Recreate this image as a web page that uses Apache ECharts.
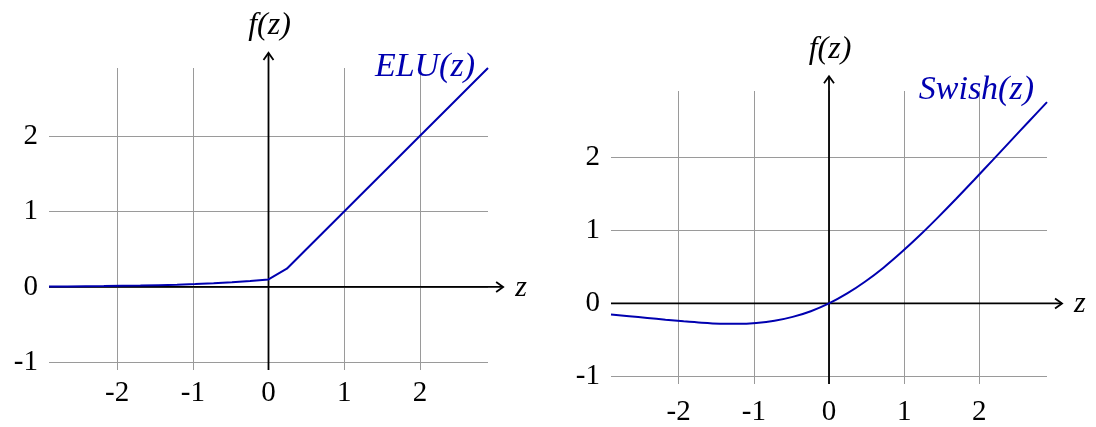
<!DOCTYPE html>
<html>
<head>
<meta charset="utf-8">
<title>ELU and Swish activation functions</title>
<script src="https://cdn.jsdelivr.net/npm/echarts@6/dist/echarts.min.js"></script>
<style>
  html, body { margin: 0; padding: 0; background: #ffffff; }
  #chart { width: 1096px; height: 427px; }
</style>
</head>
<body>
<div id="chart"></div>
<script>
// Sample positions along z shared by both curves
const zSamples = [-2.9, -2.658, -2.417, -2.175, -1.933, -1.692, -1.45, -1.208, -0.967, -0.725, -0.483, -0.242,
  0, 0.242, 0.483, 0.725, 0.967, 1.208, 1.45, 1.692, 1.933, 2.175, 2.417, 2.658, 2.9];

// f(z) values for the ELU curve (left panel)
const eluValues = [0.006, 0.007, 0.009, 0.011, 0.015, 0.018, 0.024, 0.030, 0.038, 0.048, 0.062, 0.079,
  0.1, 0.242, 0.483, 0.725, 0.967, 1.208, 1.45, 1.692, 1.933, 2.175, 2.417, 2.658, 2.9];

// f(z) values for the Swish curve (right panel)
const swishValues = [-0.151, -0.174, -0.198, -0.222, -0.244, -0.263, -0.276, -0.278, -0.266, -0.237, -0.184, -0.106,
  0, 0.136, 0.299, 0.488, 0.701, 0.930, 1.175, 1.429, 1.689, 1.953, 2.219, 2.484, 2.749];

// Axis ranges and the reach of the arrowed main axes
const zRange = [-2.9, 2.9];
const fRange = [-1.1, 2.9];
const axisReach = 3.1;

// Curve names and axis titles
const curveNames = ['ELU(z)', 'Swish(z)'];
const xTitle = 'z';
const yTitle = 'f(z)';

const curveColor = '#0000b0';
const serif = '"Liberation Serif", "DejaVu Serif", serif';
const tickFont = 29;

const chart = echarts.init(document.getElementById('chart'), null, { renderer: 'canvas' });

function pairs(xs, ys) {
  return xs.map((x, i) => [x, ys[i]]);
}

function makeXAxis(gridIndex, labelMargin) {
  return {
    type: 'value', gridIndex: gridIndex,
    min: zRange[0], max: zRange[1],
    minInterval: 1, maxInterval: 1,
    axisLine: { show: false },
    axisTick: { show: false },
    axisLabel: {
      showMinLabel: false, showMaxLabel: false,
      fontFamily: serif, fontSize: tickFont, color: '#000', margin: labelMargin
    },
    splitLine: { show: true, showMinLine: false, showMaxLine: false, lineStyle: { color: '#9a9a9a', width: 1 } }
  };
}

function makeYAxis(gridIndex) {
  return {
    type: 'value', gridIndex: gridIndex,
    min: fRange[0], max: fRange[1],
    minInterval: 1, maxInterval: 1,
    axisLine: { show: false },
    axisTick: { show: false },
    axisLabel: {
      showMinLabel: false, showMaxLabel: false,
      fontFamily: serif, fontSize: tickFont, color: '#000', margin: 11
    },
    splitLine: { show: true, showMinLine: false, showMaxLine: false, lineStyle: { color: '#9a9a9a', width: 1 } }
  };
}

// Arrowed main axes through the origin, their titles and the curve name
function decorations(panel) {
  return {
    type: 'custom',
    xAxisIndex: panel, yAxisIndex: panel,
    silent: true,
    clip: false,
    z: 5,
    data: [[0, 0]],
    renderItem: function (params, api) {
      const xStart = api.coord([zRange[0], 0]);
      const xEnd = api.coord([axisReach, 0]);
      const yStart = api.coord([0, fRange[0]]);
      const yEnd = api.coord([0, axisReach]);
      const corner = api.coord([zRange[1], fRange[1]]);
      const axisStyle = { stroke: '#000', lineWidth: 1.8, fill: null };
      const head = 7, wing = 5;
      return {
        type: 'group',
        children: [
          { type: 'line', shape: { x1: xStart[0], y1: xStart[1], x2: xEnd[0], y2: xEnd[1] }, style: axisStyle },
          { type: 'polyline', shape: { points: [[xEnd[0] - head, xEnd[1] - wing], [xEnd[0], xEnd[1]], [xEnd[0] - head, xEnd[1] + wing]] }, style: axisStyle },
          { type: 'line', shape: { x1: yStart[0], y1: yStart[1], x2: yEnd[0], y2: yEnd[1] }, style: axisStyle },
          { type: 'polyline', shape: { points: [[yEnd[0] - wing, yEnd[1] + head], [yEnd[0], yEnd[1]], [yEnd[0] + wing, yEnd[1] + head]] }, style: axisStyle },
          { type: 'text', style: {
              text: xTitle, x: xEnd[0] + 12, y: xEnd[1] + 1,
              font: 'italic 30px ' + serif, fill: '#000',
              align: 'left', verticalAlign: 'middle', textAlign: 'left', textVerticalAlign: 'middle' } },
          { type: 'text', style: {
              text: yTitle, x: yEnd[0] + 1, y: yEnd[1] - 27,
              font: 'italic 32px ' + serif, fill: '#000',
              align: 'center', verticalAlign: 'middle', textAlign: 'center', textVerticalAlign: 'middle' } },
          { type: 'text', style: {
              text: curveNames[panel], x: corner[0] - 13, y: corner[1] - 1,
              font: 'italic 34px ' + serif, fill: curveColor,
              align: 'right', verticalAlign: 'middle', textAlign: 'right', textVerticalAlign: 'middle' } }
        ]
      };
    }
  };
}

const option = {
  animation: false,
  backgroundColor: '#ffffff',
  grid: [
    { left: 49, right: 608, top: 68, bottom: 57, containLabel: false },
    { left: 611, right: 49, top: 91, bottom: 34, containLabel: false }
  ],
  xAxis: [makeXAxis(0, 9), makeXAxis(1, 14)],
  yAxis: [makeYAxis(0), makeYAxis(1)],
  series: [
    {
      name: curveNames[0], type: 'line', xAxisIndex: 0, yAxisIndex: 0,
      data: pairs(zSamples, eluValues),
      showSymbol: false, symbol: 'none', z: 6,
      lineStyle: { color: curveColor, width: 2 }
    },
    {
      name: curveNames[1], type: 'line', xAxisIndex: 1, yAxisIndex: 1,
      data: pairs(zSamples, swishValues),
      showSymbol: false, symbol: 'none', smooth: 0.3, z: 6,
      lineStyle: { color: curveColor, width: 2 }
    },
    decorations(0),
    decorations(1)
  ]
};

chart.setOption(option);
</script>
</body>
</html>
